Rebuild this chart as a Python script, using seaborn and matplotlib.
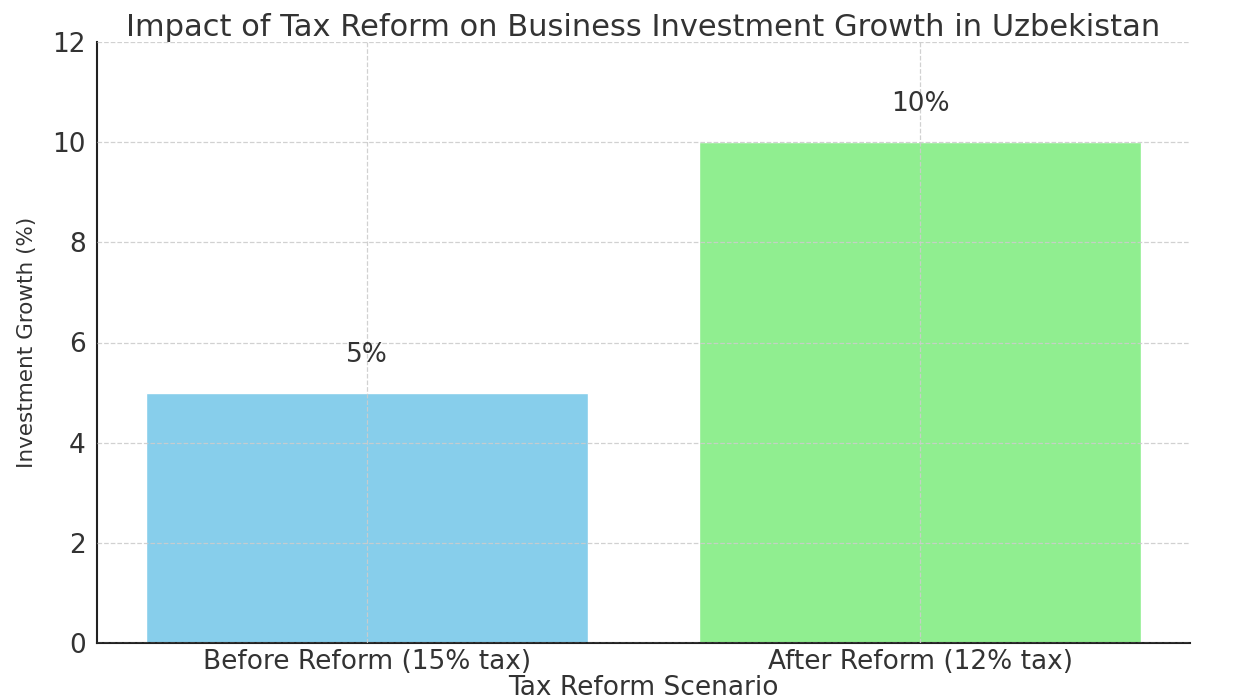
import matplotlib
matplotlib.use("Agg")
import matplotlib.pyplot as plt
import seaborn as sns
import pandas as pd

categories = ["Before Reform (15% tax)", "After Reform (12% tax)"]
growth = [5, 10]
bar_colors = ["#87CEEB", "#90EE90"]
value_labels = ["5%", "10%"]

sns.set_theme(style="white")
plt.rcParams["font.family"] = ["DejaVu Sans"]
plt.rcParams["text.color"] = "#333333"
plt.rcParams["axes.labelcolor"] = "#333333"
plt.rcParams["xtick.color"] = "#333333"
plt.rcParams["ytick.color"] = "#333333"

df = pd.DataFrame({"Scenario": categories, "Growth": growth})

fig = plt.figure(figsize=(12.36, 6.99), dpi=100)
ax = fig.add_axes([97/1236, 1 - 643/699, (1190-97)/1236, (643-42)/699])

sns.barplot(data=df, x="Scenario", y="Growth", hue="Scenario",
            palette=bar_colors, legend=False, ax=ax, saturation=1)

ax.set_xlim(-0.488, 1.488)
ax.set_ylim(0, 12)
ax.set_yticks([0, 2, 4, 6, 8, 10, 12])
ax.grid(True, linestyle="--", color="#cccccc", linewidth=0.9, alpha=0.9)
ax.set_axisbelow(False)
for s in ["top", "right"]:
    ax.spines[s].set_visible(False)
for s in ["left", "bottom"]:
    ax.spines[s].set_color("#222222")
    ax.spines[s].set_linewidth(1.5)
ax.tick_params(axis="both", direction="in", length=5, width=1.2, labelsize=19, colors="#333333", pad=6)
ax.tick_params(axis="y", pad=8)
ax.tick_params(axis="x", pad=4)

for i, (v, t) in enumerate(zip(growth, value_labels)):
    ax.text(i, v + 0.5, t, ha="center", va="bottom", fontsize=19, color="#333333")

ax.set_xlabel("Tax Reform Scenario", fontsize=19, labelpad=0)
ax.set_ylabel("Investment Growth (%)", fontsize=15.5, labelpad=11)
ax.set_title("Impact of Tax Reform on Business Investment Growth in Uzbekistan", fontsize=22, pad=4)

fig.savefig("out.png", dpi=100)
